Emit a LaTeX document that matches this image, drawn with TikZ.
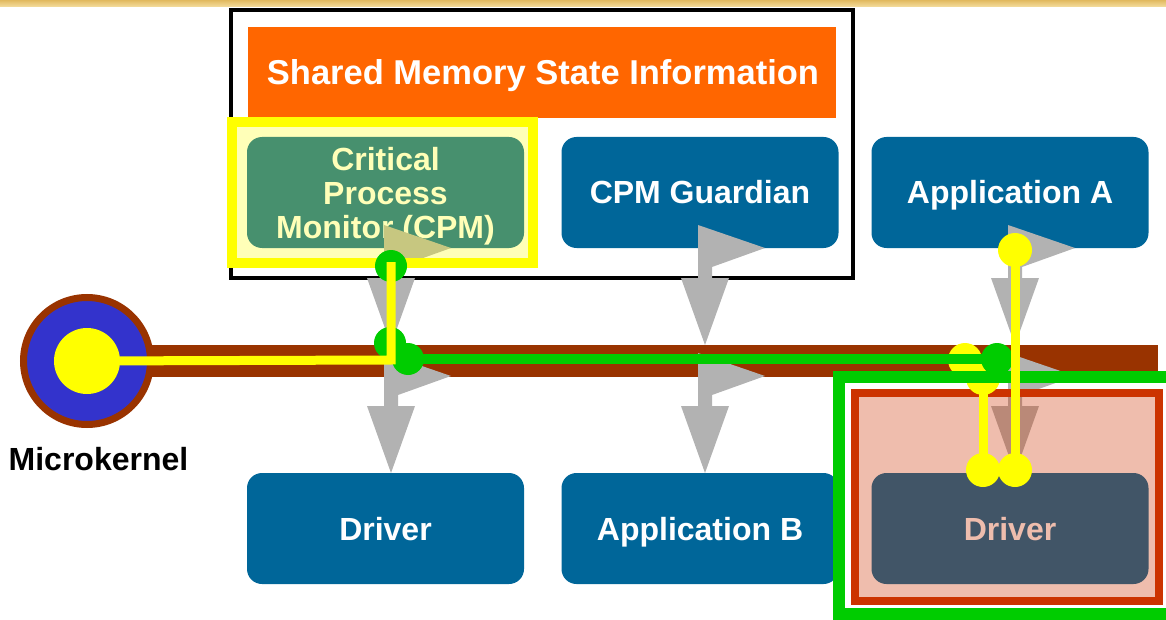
\documentclass[tikz,border=0pt]{standalone}
\usepackage{fontspec}
\setmainfont{Liberation Sans}
\definecolor{nodeblue}{HTML}{006699}
\definecolor{kbrown}{HTML}{993300}
\definecolor{kblue}{HTML}{3333CC}
\definecolor{kgreen}{HTML}{00CC00}
\definecolor{kyellow}{HTML}{FFFF00}
\definecolor{korange}{HTML}{FF6600}
\definecolor{kred}{HTML}{CC3300}
\definecolor{arrgray}{HTML}{B2B2B2}
\definecolor{goldA}{RGB}{225,185,95}
\definecolor{goldB}{RGB}{245,222,160}
\begin{document}
\begin{tikzpicture}[x=1pt,y=-1pt,
  box/.style={rounded corners=15pt, fill=nodeblue, text=white, minimum width=277pt, minimum height=111pt,
    inner sep=0pt, outer sep=0pt, font=\bfseries\fontsize{32}{34}\selectfont, align=center},
  oneline/.style={text height=23pt, text depth=0pt},
  gdot/.style={circle, fill=kgreen, inner sep=0pt, minimum size=32pt},
  ydot/.style={circle, fill=kyellow, inner sep=0pt, minimum size=34pt},
  yline/.style={draw=kyellow, line width=9pt},
  gline/.style={draw=kgreen, line width=10pt},
  flagarrow/.pic={\fill[arrgray] (-7,0) -- (60,23) -- (7,42) -- (7,53) -- (24,53) -- (0,120) -- (-24,53) -- (-7,53) -- cycle;}
]
\useasboundingbox (0,0) rectangle (1166,620);
\fill[top color=goldA, bottom color=goldB] (0,0) rectangle (1166,7);

% shared memory frame
\draw[line width=4pt] (231,10) rectangle (853,278);
\fill[korange] (248,27) rectangle (836,118);
\node[anchor=base, text=white, font=\bfseries\fontsize{34.5}{36}\selectfont] (title) at (543,85) {Shared Memory State Information};

% process boxes
\node[box, text depth=0pt] (cpm) at (385.5,192.5) {Critical\\Process\\Monitor (CPM)};
\node[box, oneline] (guard) at (700,192.5) {CPM Guardian};
\node[box, oneline] (appa) at (1010,192.5) {Application A};
\node[box, oneline] (drvl) at (385.5,528.5) {Driver};
\node[box, oneline] (appb) at (700,528.5) {Application B};
\node[box, oneline] (drvr) at (1010,528.5) {Driver};

% microkernel bus
\fill[kbrown] (120,345) rectangle (1158,377);
\node[circle, fill=kblue, draw=kbrown, line width=7pt, minimum size=127pt, inner sep=0pt] (mk) at (87,361) {};
\node[circle, fill=kyellow, minimum size=66pt, inner sep=0pt] (mkc) at (mk.center) {};
\node[anchor=base, font=\bfseries\fontsize{32}{34}\selectfont] (mklabel) at (98.5,470) {Microkernel};

% message arrows
\pic at (391,225) {flagarrow};
\pic at (391,353) {flagarrow};
\pic at (705,225) {flagarrow};
\pic at (705,353) {flagarrow};
\pic at (1015,225) {flagarrow};
\pic at (1015,353) {flagarrow};

% highlight frames
\draw[kyellow, line width=10pt, fill=kyellow, fill opacity=0.28] (232,122) rectangle (533,263);
\draw[kred, line width=8pt, fill=kred, fill opacity=0.32] (855,393) rectangle (1159,601);

% yellow path to driver (under green)
\coordinate (ya) at (965,360);
\coordinate (yb) at (983,378);
\coordinate (yc) at (983,470);
\draw[yline] (yb) -- (yc);
\node[ydot] (yda) at (ya) {};
\node[ydot] (ydb) at (yb) {};
\node[ydot] (ydc) at (yc) {};

% green frame
\begin{scope}
\clip (0,0) rectangle (1166,620);
\draw[kgreen, line width=12pt] (839,377) rectangle (1185,614);
\end{scope}

% green path
\node[gdot] (g1) at (391,266) {};
\node[gdot] (g2) at (390,343) {};
\node[gdot] (g3) at (408,359) {};
\node[gdot] (g4) at (997,359) {};
\draw[gline] (g3.center) -- (g4.center);

% yellow paths on top
\coordinate (ycorner) at (391,360);
\coordinate (ytop) at (391,262);
\draw[yline] (mk.center) -- (ycorner) -- (ytop);
\coordinate (yd) at (1015,250);
\coordinate (ye) at (1015,470);
\draw[yline] (yd) -- (ye);
\node[ydot] (ydd) at (yd) {};
\node[ydot] (yde) at (ye) {};
\end{tikzpicture}
\end{document}
